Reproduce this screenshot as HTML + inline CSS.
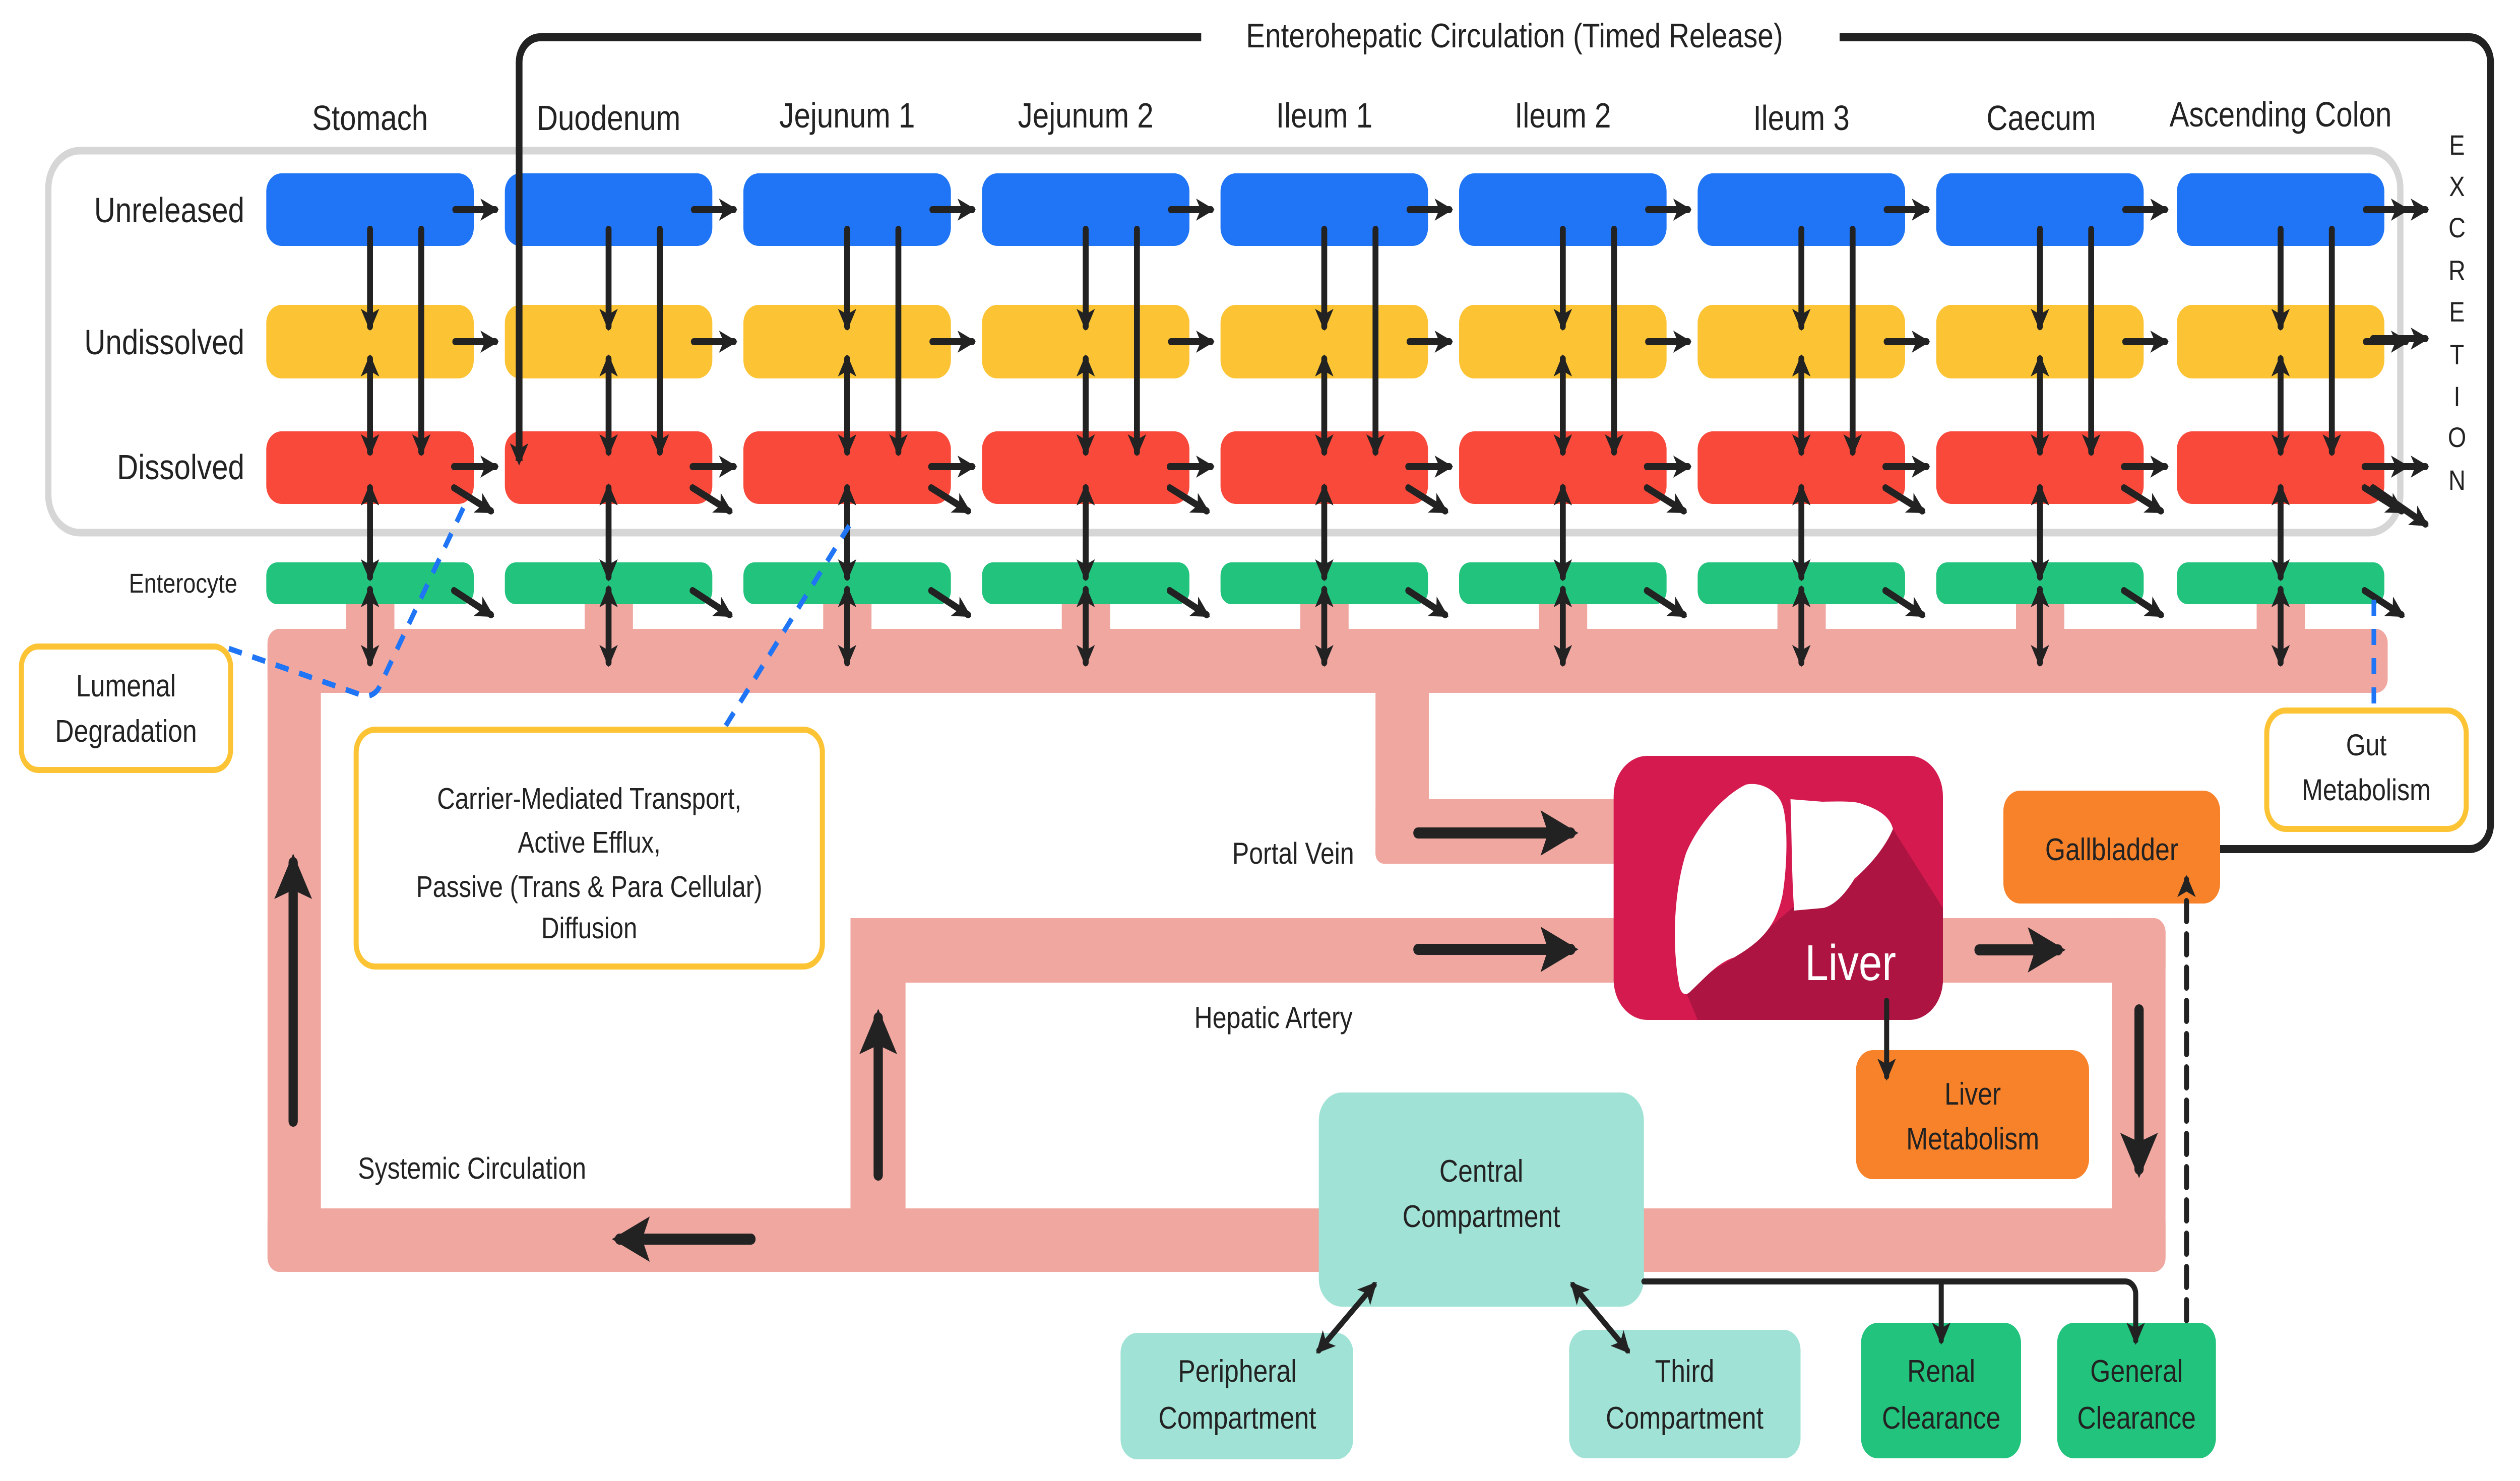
<!DOCTYPE html>
<html><head><meta charset="utf-8"><style>
html,body{margin:0;padding:0;background:#fff;overflow:hidden;width:100%;height:100%;}
svg{display:block;width:100vw;height:100vh;}
text{font-family:"Liberation Sans",sans-serif;fill:#222;}
</style></head><body>
<svg viewBox="0 0 6000 2939" preserveAspectRatio="none" xmlns="http://www.w3.org/2000/svg">
<defs>
<marker id="ah" markerUnits="userSpaceOnUse" markerWidth="44" markerHeight="44" viewBox="0 0 10 10" refX="8" refY="5" orient="auto-start-reverse">
<path d="M0,0 L10,5 L0,10 L2.5,5 z" fill="#222"/></marker>
<marker id="bh" markerUnits="userSpaceOnUse" markerWidth="90" markerHeight="90" viewBox="0 0 10 10" refX="8" refY="5" orient="auto">
<path d="M0,0 L10,5 L0,10 L2,5 z" fill="#222"/></marker>
<g id="col">
<rect x="-57" y="1190" width="115" height="80" fill="#efa7a0"/>
<rect x="-247" y="344" width="494" height="144" rx="36" fill="#1f75f5"/>
<rect x="-247" y="605" width="494" height="146" rx="36" fill="#fcc434"/>
<rect x="-247" y="856" width="494" height="144" rx="36" fill="#f8493a"/>
<rect x="-247" y="1116" width="494" height="83" rx="26" fill="#22c37d"/>
<g stroke="#222" stroke-width="14" fill="none" stroke-linecap="round">
<line x1="0" y1="455" x2="0" y2="648" marker-end="url(#ah)"/>
<line x1="122" y1="455" x2="122" y2="897" marker-end="url(#ah)"/>
<line x1="0" y1="712" x2="0" y2="897" marker-start="url(#ah)" marker-end="url(#ah)"/>
<line x1="0" y1="968" x2="0" y2="1145" marker-start="url(#ah)" marker-end="url(#ah)"/>
<line x1="0" y1="1170" x2="0" y2="1315" marker-start="url(#ah)" marker-end="url(#ah)"/>
<line x1="203" y1="416" x2="298" y2="416" marker-end="url(#ah)"/>
<line x1="203" y1="678" x2="298" y2="678" marker-end="url(#ah)"/>
<line x1="200" y1="926" x2="298" y2="926" marker-end="url(#ah)"/>
<line x1="200" y1="968" x2="288" y2="1014" marker-end="url(#ah)"/>
<line x1="200" y1="1172" x2="288" y2="1220" marker-end="url(#ah)"/>
</g>
</g>
<clipPath id="lc"><rect x="3842" y="1500" width="784" height="524" rx="80"/></clipPath>
</defs>

<rect x="115" y="299" width="5600" height="758" rx="75" fill="none" stroke="#d6d6d6" stroke-width="15"/>

<g fill="#efa7a0">
<rect x="637" y="1248" width="5048" height="127" rx="28"/>
<rect x="637" y="1248" width="127" height="1276" rx="28"/>
<rect x="637" y="2398" width="4519" height="126" rx="28"/>
<rect x="3275" y="1300" width="127" height="414" rx="20"/>
<rect x="3275" y="1586" width="600" height="128" rx="20"/>
<rect x="2025" y="1822" width="3131" height="128" rx="28"/>
<rect x="2025" y="1822" width="131" height="620"/>
<rect x="5028" y="1822" width="128" height="702" rx="28"/>
</g>

<use href="#col" x="881"/>
<use href="#col" x="1449"/>
<use href="#col" x="2017"/>
<use href="#col" x="2585"/>
<use href="#col" x="3153"/>
<use href="#col" x="3721"/>
<use href="#col" x="4289"/>
<use href="#col" x="4857"/>
<use href="#col" x="5430"/>
<g stroke="#222" stroke-width="14" fill="none" stroke-linecap="round">
<line x1="5650" y1="416" x2="5775" y2="416" marker-end="url(#ah)"/>
<line x1="5650" y1="672" x2="5775" y2="672" marker-end="url(#ah)"/>
<line x1="5650" y1="926" x2="5775" y2="926" marker-end="url(#ah)"/>
<line x1="5650" y1="968" x2="5775" y2="1040" marker-end="url(#ah)"/>
</g>

<g font-size="70" text-anchor="middle">
<text x="881" y="258">Stomach</text>
<text x="1449" y="258">Duodenum</text>
<text x="2017" y="253">Jejunum 1</text>
<text x="2585" y="253">Jejunum 2</text>
<text x="3153" y="253">Ileum 1</text>
<text x="3721" y="253">Ileum 2</text>
<text x="4289" y="258">Ileum 3</text>
<text x="4860" y="258">Caecum</text>
<text x="5430" y="251">Ascending Colon</text>
</g>
<g font-size="70" text-anchor="end">
<text x="582" y="441">Unreleased</text>
<text x="582" y="703">Undissolved</text>
<text x="582" y="951">Dissolved</text>
<text x="565" y="1176" font-size="54">Enterocyte</text>
</g>
<g font-size="56" text-anchor="middle">
<text x="5850" y="307">E</text><text x="5850" y="389">X</text><text x="5850" y="471">C</text>
<text x="5850" y="556">R</text><text x="5850" y="638">E</text><text x="5850" y="723">T</text>
<text x="5850" y="806">I</text><text x="5850" y="887">O</text><text x="5850" y="972">N</text>
</g>

<g stroke="#222" stroke-width="16" fill="none">
<path d="M5286,1685 H5880 A50,50 0 0 0 5930,1635 V124 A50,50 0 0 0 5880,74 H4380"/>
<path d="M2860,74 H1286 A50,50 0 0 0 1236,124 V915" marker-end="url(#ah)"/>
</g>
<text x="3606" y="94" font-size="68" text-anchor="middle">Enterohepatic Circulation (Timed Release)</text>

<g stroke="#1f75f5" stroke-width="11" fill="none" stroke-dasharray="32,26">
<path d="M545,1287 L870,1382 Q895,1380 905,1360 L1116,985"/>
<path d="M1728,1440 L2022,1043"/>
<line x1="5652" y1="1190" x2="5652" y2="1405"/>
</g>

<rect x="51" y="1283" width="498" height="245" rx="40" fill="#fff" stroke="#fcc434" stroke-width="12"/>
<text font-size="62" text-anchor="middle"><tspan x="300" y="1382">Lumenal</tspan><tspan x="300" y="1472">Degradation</tspan></text>
<rect x="848" y="1448" width="1110" height="470" rx="45" fill="#fff" stroke="#fcc434" stroke-width="12"/>
<text font-size="59" text-anchor="middle"><tspan x="1403" y="1605">Carrier-Mediated Transport,</tspan><tspan x="1403" y="1692">Active Efflux,</tspan><tspan x="1403" y="1780">Passive (Trans &amp; Para Cellular)</tspan><tspan x="1403" y="1862">Diffusion</tspan></text>
<rect x="5397" y="1410" width="475" height="235" rx="45" fill="#fff" stroke="#fcc434" stroke-width="12"/>
<text font-size="60" text-anchor="middle"><tspan x="5634" y="1499">Gut</tspan><tspan x="5634" y="1588">Metabolism</tspan></text>

<rect x="3842" y="1500" width="784" height="524" rx="80" fill="#d41a4f"/>
<polygon clip-path="url(#lc)" fill="#ad1442" points="4507,1645 4700,1900 4700,2100 4080,2100 4010,1960 4130,1900 4270,1800 4420,1745"/>
<path fill="#fff" d="M4157,1557 C4100,1580 4040,1640 4014,1694 C3985,1770 3980,1880 3999,1959 C4005,1975 4015,1975 4023,1969 C4060,1940 4090,1910 4129,1900 C4190,1870 4230,1840 4245,1772 C4258,1700 4255,1620 4243,1596 C4235,1575 4200,1550 4157,1557 Z"/>
<path fill="#fff" d="M4263,1586 L4339,1591 C4390,1590 4420,1590 4435,1596 C4470,1605 4500,1620 4507,1645 C4490,1680 4450,1720 4416,1743 C4390,1780 4360,1800 4339,1802 L4272,1807 C4266,1750 4266,1650 4263,1586 Z"/>
<text x="4406" y="1945" font-size="100" text-anchor="middle" style="fill:#fff">Liver</text>

<rect x="4770" y="1569" width="516" height="224" rx="40" fill="#f8822a"/>
<text x="5028" y="1707" font-size="62" text-anchor="middle">Gallbladder</text>
<rect x="4419" y="2084" width="555" height="256" rx="40" fill="#f8822a"/>
<text font-size="62" text-anchor="middle"><tspan x="4697" y="2192">Liver</tspan><tspan x="4697" y="2281">Metabolism</tspan></text>

<rect x="3140" y="2168" width="774" height="425" rx="55" fill="#a0e3d6"/>
<text font-size="62" text-anchor="middle"><tspan x="3527" y="2345">Central</tspan><tspan x="3527" y="2435">Compartment</tspan></text>
<rect x="2668" y="2645" width="554" height="251" rx="40" fill="#a0e3d6"/>
<text font-size="62" text-anchor="middle"><tspan x="2946" y="2742">Peripheral</tspan><tspan x="2946" y="2835">Compartment</tspan></text>
<rect x="3736" y="2639" width="551" height="255" rx="40" fill="#a0e3d6"/>
<text font-size="62" text-anchor="middle"><tspan x="4011" y="2742">Third</tspan><tspan x="4011" y="2835">Compartment</tspan></text>
<rect x="4431" y="2625" width="381" height="269" rx="40" fill="#22c37d"/>
<text font-size="62" text-anchor="middle"><tspan x="4622" y="2742">Renal</tspan><tspan x="4622" y="2835">Clearance</tspan></text>
<rect x="4898" y="2625" width="378" height="269" rx="40" fill="#22c37d"/>
<text font-size="62" text-anchor="middle"><tspan x="5087" y="2742">General</tspan><tspan x="5087" y="2835">Clearance</tspan></text>

<text x="3224" y="1714" font-size="60" text-anchor="end">Portal Vein</text>
<text x="3032" y="2040" font-size="60" text-anchor="middle">Hepatic Artery</text>
<text x="1124" y="2339" font-size="60" text-anchor="middle">Systemic Circulation</text>

<g stroke="#222" stroke-width="22" fill="none" stroke-linecap="round">
<line x1="3376" y1="1653" x2="3740" y2="1653" marker-end="url(#bh)"/>
<line x1="3376" y1="1884" x2="3740" y2="1884" marker-end="url(#bh)"/>
<line x1="4712" y1="1885" x2="4900" y2="1885" marker-end="url(#bh)"/>
<line x1="5093" y1="2004" x2="5093" y2="2320" marker-end="url(#bh)"/>
<line x1="698" y1="2225" x2="698" y2="1712" marker-end="url(#bh)"/>
<line x1="1788" y1="2459" x2="1475" y2="2459" marker-end="url(#bh)"/>
<line x1="2091" y1="2332" x2="2091" y2="2020" marker-end="url(#bh)"/>
</g>

<g stroke="#222" stroke-width="12" fill="none" stroke-linecap="round">
<line x1="4492" y1="1986" x2="4492" y2="2136" marker-end="url(#ah)"/>
<path d="M3914,2543 H5060 A25,25 0 0 1 5085,2568 V2660" marker-end="url(#ah)"/>
<line x1="4622" y1="2543" x2="4622" y2="2660" marker-end="url(#ah)"/>
<line x1="3272" y1="2550" x2="3140" y2="2680" marker-start="url(#ah)" marker-end="url(#ah)"/>
<line x1="3745" y1="2550" x2="3875" y2="2680" marker-start="url(#ah)" marker-end="url(#ah)"/>
<line x1="5206" y1="2620" x2="5206" y2="1745" stroke-dasharray="40,26" marker-end="url(#ah)"/>
</g>
</svg>
</body></html>
